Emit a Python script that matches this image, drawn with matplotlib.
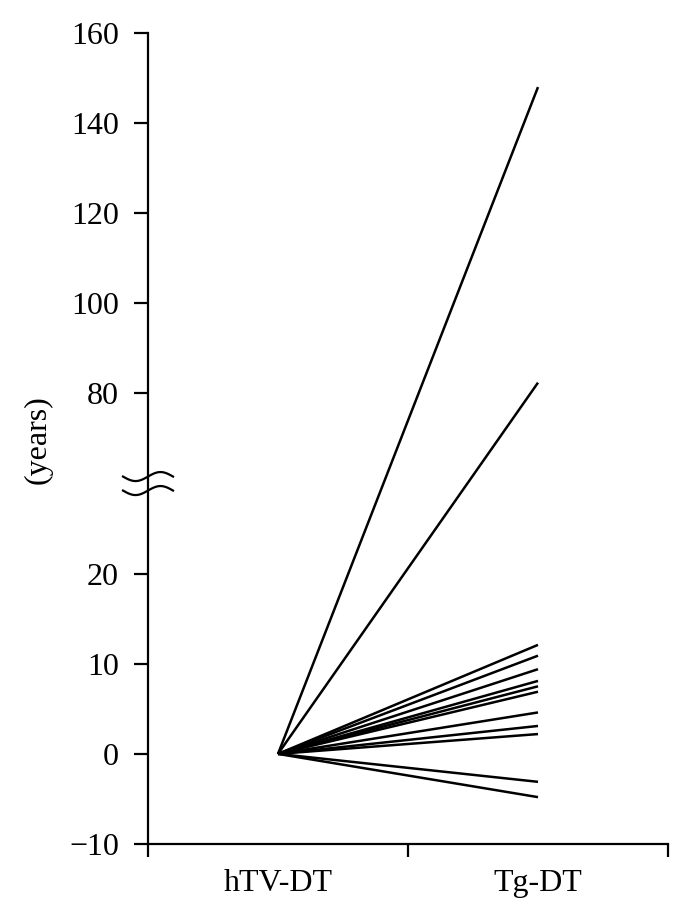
import matplotlib
matplotlib.use("Agg")
import matplotlib.pyplot as plt
import matplotlib.transforms as mtransforms
import numpy as np

categories = ["hTV-DT", "Tg-DT"]
start_values = [0.0] * 13
end_values = [148.0, 82.4, 12.1, 10.9, 9.4, 8.1, 7.5, 6.9, 4.6, 3.1, 2.2, -3.1, -4.8]
yticks = [-10, 0, 10, 20, 80, 100, 120, 140, 160]

plt.rcParams['font.family'] = ['Liberation Serif', 'DejaVu Serif']


def fwd(v):
    v = np.asarray(v, dtype=float)
    return np.where(v <= 30, v, np.where(v >= 60, 30 + (v - 60) / 2.0, 30.0))


def inv(y):
    y = np.asarray(y, dtype=float)
    return np.where(y <= 30, y, 60 + 2.0 * (y - 30))


fig = plt.figure(figsize=(6.9, 9.23), dpi=100)
W, H = 690, 923
left, right, top, bottom = 148, 668, 33, 844
ax = fig.add_axes([left / W, 1 - bottom / H, (right - left) / W, (bottom - top) / H])
ax.set_yscale('function', functions=(fwd, inv))
ax.set_ylim(-10, 160)
ax.set_xlim(0, 2)

xs = [0.5, 1.5]
for s, e in zip(start_values, end_values):
    ax.plot(xs, [s, e], color='black', lw=1.8, solid_capstyle='butt')

for side in ['top', 'right']:
    ax.spines[side].set_visible(False)
for side in ['left', 'bottom']:
    ax.spines[side].set_linewidth(1.6)

ax.set_yticks(yticks)
ax.set_yticklabels([str(t).replace('-', '\u2212') for t in yticks])
ax.yaxis.set_minor_locator(matplotlib.ticker.NullLocator())
ax.tick_params(axis='y', which='major', length=10, width=1.6, pad=11, labelsize=23)

ax.set_xticks([0, 1, 2])
ax.set_xticklabels([])
ax.set_xticks(xs, minor=True)
ax.set_xticklabels(categories, minor=True)
ax.tick_params(axis='x', which='major', length=9, width=1.6)
ax.tick_params(axis='x', which='minor', length=0, pad=18, labelsize=23)

fig.text(38 / W, 1 - 440 / H, '(years)', rotation=90, ha='center', va='center', fontsize=23)

# axis break marker
trans = fig.dpi_scale_trans + mtransforms.ScaledTranslation(0, 30, ax.transData)
t = np.linspace(-0.25, 0.25, 60)
wave = 0.045 * np.sin(t / 0.25 * np.pi * 1.0)
for off in (0.07, -0.07):
    ax.plot(t, off + wave, color='black', lw=1.6, transform=trans, clip_on=False)

fig.savefig('out.png', dpi=100)
